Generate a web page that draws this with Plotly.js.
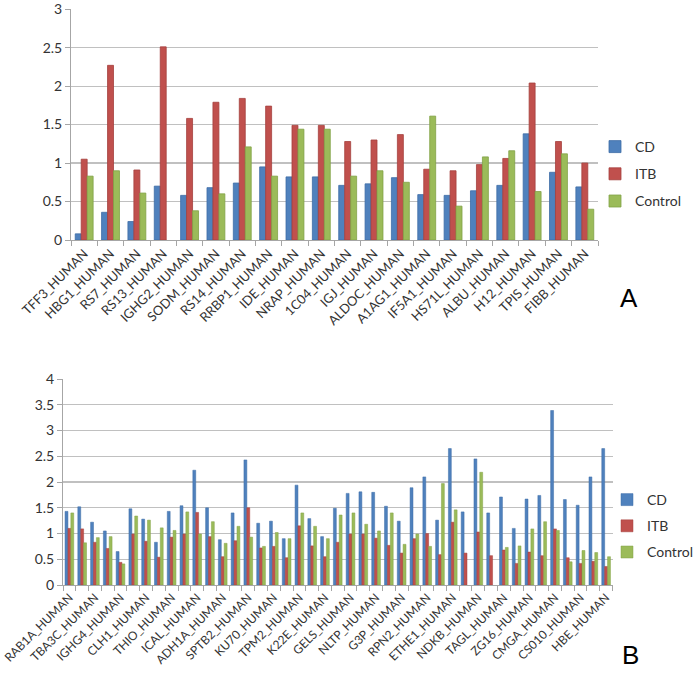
<!DOCTYPE html>
<html>
<head>
<meta charset="utf-8">
<script src="https://cdn.plot.ly/plotly-3.0.1.min.js"></script>
<style>html,body{margin:0;padding:0;background:#fff;}#chart{width:700px;height:677px;}</style>
</head>
<body>
<div id="chart"></div>
<script>
// Panel A
const catsA = ["TFF3_HUMAN","HBG1_HUMAN","RS7_HUMAN","RS13_HUMAN","IGHG2_HUMAN","SODM_HUMAN","RS14_HUMAN","RRBP1_HUMAN","IDE_HUMAN","NRAP_HUMAN","1C04_HUMAN","IGJ_HUMAN","ALDOC_HUMAN","A1AG1_HUMAN","IF5A1_HUMAN","HS71L_HUMAN","ALBU_HUMAN","H12_HUMAN","TPIS_HUMAN","FIBB_HUMAN"];
const cdA   = [0.08,0.36,0.24,0.70,0.58,0.68,0.74,0.95,0.82,0.82,0.71,0.73,0.81,0.59,0.58,0.64,0.71,1.38,0.88,0.69];
const itbA  = [1.05,2.27,0.91,2.51,1.58,1.79,1.84,1.74,1.49,1.49,1.28,1.30,1.37,0.92,0.90,0.98,1.06,2.04,1.28,1.00];
const ctrlA = [0.83,0.90,0.61,null,0.38,0.60,1.21,0.83,1.44,1.44,0.83,0.90,0.75,1.61,0.44,1.08,1.16,0.63,1.12,0.40];

// Panel B (43 proteins; only every other name is printed on the axis)
const labelsB = ["RAB1A_HUMAN","TBA3C_HUMAN","IGHG4_HUMAN","CLH1_HUMAN","THIO_HUMAN","ICAL_HUMAN","ADH1A_HUMAN","SPTB2_HUMAN","KU70_HUMAN","TPM2_HUMAN","K22E_HUMAN","GELS_HUMAN","NLTP_HUMAN","G3P_HUMAN","RPN2_HUMAN","ETHE1_HUMAN","NDKB_HUMAN","TAGL_HUMAN","ZG16_HUMAN","CMGA_HUMAN","CS010_HUMAN","HBE_HUMAN"];
const cdB   = [1.43,1.52,1.22,1.05,0.65,1.48,1.28,0.83,1.43,1.54,2.23,1.50,0.88,1.40,2.43,1.20,1.24,0.90,1.94,1.29,0.94,1.49,1.78,1.81,1.80,1.53,1.24,1.89,2.10,1.26,2.65,1.42,2.45,1.40,1.71,1.10,1.67,1.74,3.39,1.66,1.55,2.10,2.65];
const itbB  = [1.10,1.09,0.83,0.71,0.44,0.99,0.85,0.54,0.93,0.99,1.41,0.94,0.55,0.86,1.50,0.72,0.75,0.53,1.15,0.76,0.55,0.83,0.99,0.99,0.91,0.77,0.62,0.90,1.00,0.59,1.22,0.62,1.03,0.57,0.68,0.42,0.64,0.57,1.09,0.53,0.42,0.46,0.36];
const ctrlB = [1.40,0.82,0.92,0.94,0.41,1.34,1.26,1.11,1.06,1.42,0.99,1.23,0.81,1.14,0.93,0.75,1.02,0.90,1.40,1.14,0.90,1.36,1.40,1.18,1.05,1.40,0.79,0.99,0.75,1.97,1.46,null,2.19,null,0.73,0.76,1.09,1.23,1.06,0.45,0.67,0.63,0.55];

const seriesNames = ["CD","ITB","Control"];
const fills = ["#4f81bd","#c0504d","#9bbb59"];
const edges = ["#3d6ca6","#a5403d","#82a246"];

const idxB = cdB.map((_, i) => i);
const tickvalsB = labelsB.map((_, i) => 2 * i);

const font = "Lato, 'Open Sans', sans-serif";
const traces = [];
[cdA, itbA, ctrlA].forEach((ys, k) => {
  traces.push({type:"bar", name:seriesNames[k], x:catsA, y:ys, xaxis:"x", yaxis:"y",
    marker:{color:fills[k], line:{color:edges[k], width:0.8}}, legend:"legend", legendgroup:"a"+k});
});
[cdB, itbB, ctrlB].forEach((ys, k) => {
  traces.push({type:"bar", name:seriesNames[k], x:idxB, y:ys, xaxis:"x2", yaxis:"y2",
    marker:{color:fills[k], line:{color:edges[k], width:0.5}}, legend:"legend2", legendgroup:"b"+k});
});

const W = 700, H = 677;
const gridC = "#c0c0c0", lineC = "#a6a6a6", txtC = "#333333";
const layout = {
  width: W, height: H,
  margin: {l:0, r:0, t:0, b:0},
  paper_bgcolor: "#fff", plot_bgcolor: "#fff",
  barmode: "group", bargap: 0.32, bargroupgap: 0,
  font: {family: font, size: 13, color: txtC},
  xaxis: {domain:[71/W, 598/W], anchor:"y", type:"category", tickson:"boundaries",
    ticks:"outside", ticklen:5, tickcolor:lineC, showline:true, linecolor:lineC, linewidth:1,
    showgrid:false, tickangle:-45, ticklabeloverflow:"allow", tickfont:{size:13, color:txtC, family:font}},
  yaxis: {domain:[1-240/H, 1-9/H], anchor:"x", range:[0,3.002], dtick:0.5, tick0:0, tickmode:"linear",
    showgrid:true, gridcolor:gridC, gridwidth:1.2, zeroline:false, showline:true, linecolor:lineC,
    ticks:"outside", ticklen:5, tickcolor:lineC, ticklabeloverflow:"allow", tickfont:{size:14, color:txtC, family:font}},
  xaxis2: {domain:[63/W, 612.5/W], anchor:"y2", type:"linear", range:[-0.5, 42.5],
    tickmode:"array", tickvals:tickvalsB, ticktext:labelsB, ticks:"", showgrid:false,
    minor:{ticks:"outside", ticklen:5, tickcolor:lineC, tick0:-0.5, dtick:1, showgrid:false},
    showline:true, linecolor:lineC, linewidth:1, zeroline:false, ticklabeloverflow:"allow",
    tickangle:-45, tickfont:{size:12, color:txtC, family:font}},
  yaxis2: {domain:[1-585/H, 1-379/H], anchor:"x2", range:[0,4.002], dtick:0.5, tick0:0, tickmode:"linear",
    showgrid:true, gridcolor:gridC, gridwidth:1.2, zeroline:false, showline:true, linecolor:lineC,
    ticks:"outside", ticklen:5, tickcolor:lineC, ticklabeloverflow:"allow", tickfont:{size:14, color:txtC, family:font}},
  legend: {x:595/W, y:1-131/H, xanchor:"left", yanchor:"top", bgcolor:"rgba(0,0,0,0)",
    font:{size:14, color:txtC, family:font}, traceorder:"grouped", tracegroupgap:6, itemwidth:30},
  legend2: {x:607/W, y:1-484/H, xanchor:"left", yanchor:"top", bgcolor:"rgba(0,0,0,0)",
    font:{size:14, color:txtC, family:font}, traceorder:"grouped", tracegroupgap:5, itemwidth:30},
  annotations: [
    {text:"A", xref:"paper", yref:"paper", x:629/W, y:1-298/H, xanchor:"center", yanchor:"middle",
     showarrow:false, font:{size:26, color:"#000", family:"Liberation Sans, Arial, sans-serif"}},
    {text:"B", xref:"paper", yref:"paper", x:630/W, y:1-655/H, xanchor:"center", yanchor:"middle",
     showarrow:false, font:{size:26, color:"#000", family:"Liberation Sans, Arial, sans-serif"}}
  ],
  showlegend: true
};
Plotly.newPlot("chart", traces, layout, {displayModeBar:false, staticPlot:true});
</script>
</body>
</html>
